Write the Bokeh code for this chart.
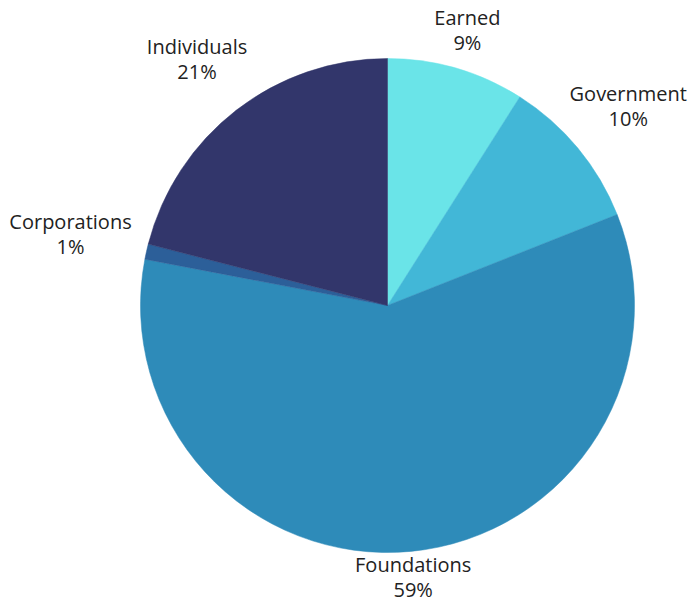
import math
from bokeh.plotting import figure
from bokeh.models import Range1d, ColumnDataSource
from bokeh.core.properties import value
from bokeh.embed import file_html
from bokeh.resources import INLINE

categories = ["Earned", "Government", "Foundations", "Corporations", "Individuals"]
values = [9, 10, 59, 1, 21]
colors = ["#6AE4E8", "#42B7D7", "#2E8BB9", "#2C5F99", "#32366B"]

W, H = 690, 600
cx, cy = 387, H - 305
R = 247
font_px = 20
char_w = 11.2
gap = 7

total = sum(values)
starts, ends, nx, ny, px, py, names, pcts = [], [], [], [], [], [], [], []
cum = 0.0
for cat, v in zip(categories, values):
    a0 = cum / total
    a1 = (cum + v) / total
    cum += v
    starts.append(math.pi / 2 - a0 * 2 * math.pi)
    ends.append(math.pi / 2 - a1 * 2 * math.pi)
    mid = (a0 + a1) / 2 * 2 * math.pi  # clockwise from top
    s, c = math.sin(mid), math.cos(mid)
    half_w = max(len(cat), len(f"{v}%")) * char_w / 2
    half_h = 24 if c > 0 else 13
    rl = R + gap + half_w * abs(s) + half_h * abs(c)
    x = cx + rl * s
    y = cy + rl * c
    nx.append(x); ny.append(y + 13)
    px.append(x); py.append(y - 12)
    names.append(cat); pcts.append(f"{v}%")

src = ColumnDataSource(dict(start=starts, end=ends, color=colors))

p = figure(width=W, height=H, output_backend="svg", toolbar_location=None,
           x_range=Range1d(0, W), y_range=Range1d(0, H), min_border=0)
p.axis.visible = False
p.grid.visible = False
p.outline_line_color = None
p.background_fill_color = "white"
p.border_fill_color = "white"

p.wedge(x=cx, y=cy, radius=R, start_angle="start", end_angle="end",
        direction="clock", fill_color="color", line_color="color", line_width=0.5,
        source=src)

p.text(x=nx, y=ny, text=names, text_align="center", text_baseline="middle",
       text_font=value("Open Sans"), text_font_size=f"{font_px}px", text_color="#222222")
p.text(x=px, y=py, text=pcts, text_align="center", text_baseline="middle",
       text_font=value("Open Sans"), text_font_size=f"{font_px}px", text_color="#222222")

open("out.html", "w").write(file_html(p, INLINE))
